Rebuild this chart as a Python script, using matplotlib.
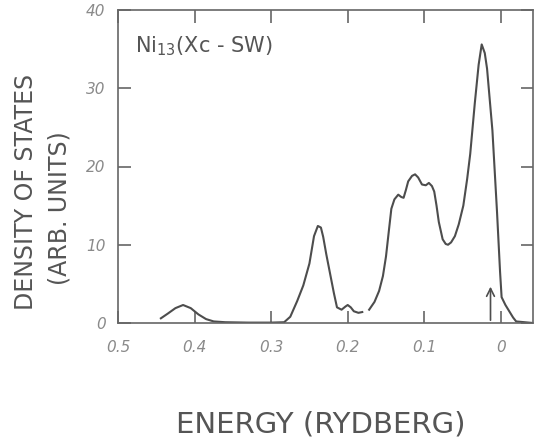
import numpy as np
import matplotlib
matplotlib.use("Agg")
import matplotlib.pyplot as plt

energy = [0.444, 0.435, 0.425, 0.415, 0.405, 0.395, 0.385, 0.375, 0.36, 0.33, 0.30, 0.283,
          0.275, 0.266, 0.258, 0.25, 0.244, 0.239, 0.235, 0.232, 0.228, 0.223, 0.218, 0.214,
          0.208, 0.203, 0.20, 0.196, 0.192, 0.186, 0.181, 0.1765,
          0.172, 0.165, 0.159, 0.154, 0.15, 0.146, 0.143, 0.139, 0.134, 0.13, 0.127, 0.124,
          0.121, 0.116, 0.112, 0.108, 0.103, 0.098, 0.094, 0.09, 0.087, 0.084, 0.081, 0.076,
          0.072, 0.069, 0.065, 0.06, 0.055, 0.049, 0.044, 0.04, 0.034, 0.029, 0.025, 0.021,
          0.018, 0.011, 0.005, 0.001, -0.001, -0.006, -0.011, -0.016, -0.02, -0.042]
dos = [0.6, 1.2, 1.9, 2.3, 1.9, 1.1, 0.5, 0.2, 0.1, 0.05, 0.05, 0.1,
       0.8, 2.8, 4.8, 7.6, 11.1, 12.4, 12.2, 11.0, 8.8, 6.3, 3.8, 2.0,
       1.7, 2.1, 2.3, 2.0, 1.5, 1.3, 1.4, np.nan,
       1.7, 2.7, 4.1, 6.0, 8.5, 12.0, 14.6, 15.8, 16.4, 16.1, 16.0, 17.0,
       18.1, 18.8, 19.0, 18.6, 17.7, 17.6, 17.9, 17.5, 16.8, 15.0, 12.9, 10.7,
       10.1, 10.0, 10.3, 11.1, 12.6, 15.0, 18.4, 21.6, 28.1, 33.0, 35.6, 34.5,
       32.5, 24.6, 14.2, 6.5, 3.3, 2.3, 1.5, 0.7, 0.2, 0.0]

xticks = [0.5, 0.4, 0.3, 0.2, 0.1, 0.0]
xticklabels = ["0.5", "0.4", "0.3", "0.2", "0.1", "0"]
yticks = [0, 10, 20, 30, 40]
yticklabels = ["0", "10", "20", "30", "40"]
fermi_energy = 0.0135
fermi_arrow_height = 5.0

line_c = "#4d4d4d"
text_c = "#555555"
tick_c = "#8a8a8a"

fig = plt.figure(figsize=(5.36, 4.41), dpi=100)
ax = fig.add_axes([118/536, 1-323/441, (533-118)/536, (323-10)/441])
ax.plot(energy, dos, color=line_c, lw=1.5)
ax.set_xlim(0.5, -0.042)
ax.set_ylim(0, 40)

for s in ax.spines.values():
    s.set_color("#666666")
    s.set_linewidth(1.2)

ax.set_xticks(xticks)
ax.set_xticklabels(xticklabels, fontstyle="italic", color=tick_c, fontsize=11)
ax.set_yticks(yticks)
ax.set_yticklabels(yticklabels, fontstyle="italic", color=tick_c, fontsize=11)
ax.tick_params(axis="both", direction="in", length=9, width=1.2, color="#666666",
               top=True, right=True, pad=9)
ax.tick_params(axis="x", pad=12)

ax.annotate("", xy=(fermi_energy, fermi_arrow_height), xytext=(fermi_energy, 0),
            arrowprops=dict(arrowstyle="->", color=line_c, lw=1.2, mutation_scale=14))

ax.text(0.04, 0.885, "Ni$_{13}$(Xc - SW)", transform=ax.transAxes, fontsize=15,
        color=text_c, va="center", ha="left")

fig.text(25.6/536, 1-192/441, "DENSITY OF STATES", rotation=90, fontsize=17,
         color=text_c, ha="center", va="center")
fig.text(60/536, 1-208/441, "(ARB. UNITS)", rotation=90, fontsize=17,
         color=text_c, ha="center", va="center")
fig.text(321/536, 1-425/441, "ENERGY (RYDBERG)", fontsize=21,
         color=text_c, ha="center", va="center")

fig.savefig("out.png", dpi=100)
